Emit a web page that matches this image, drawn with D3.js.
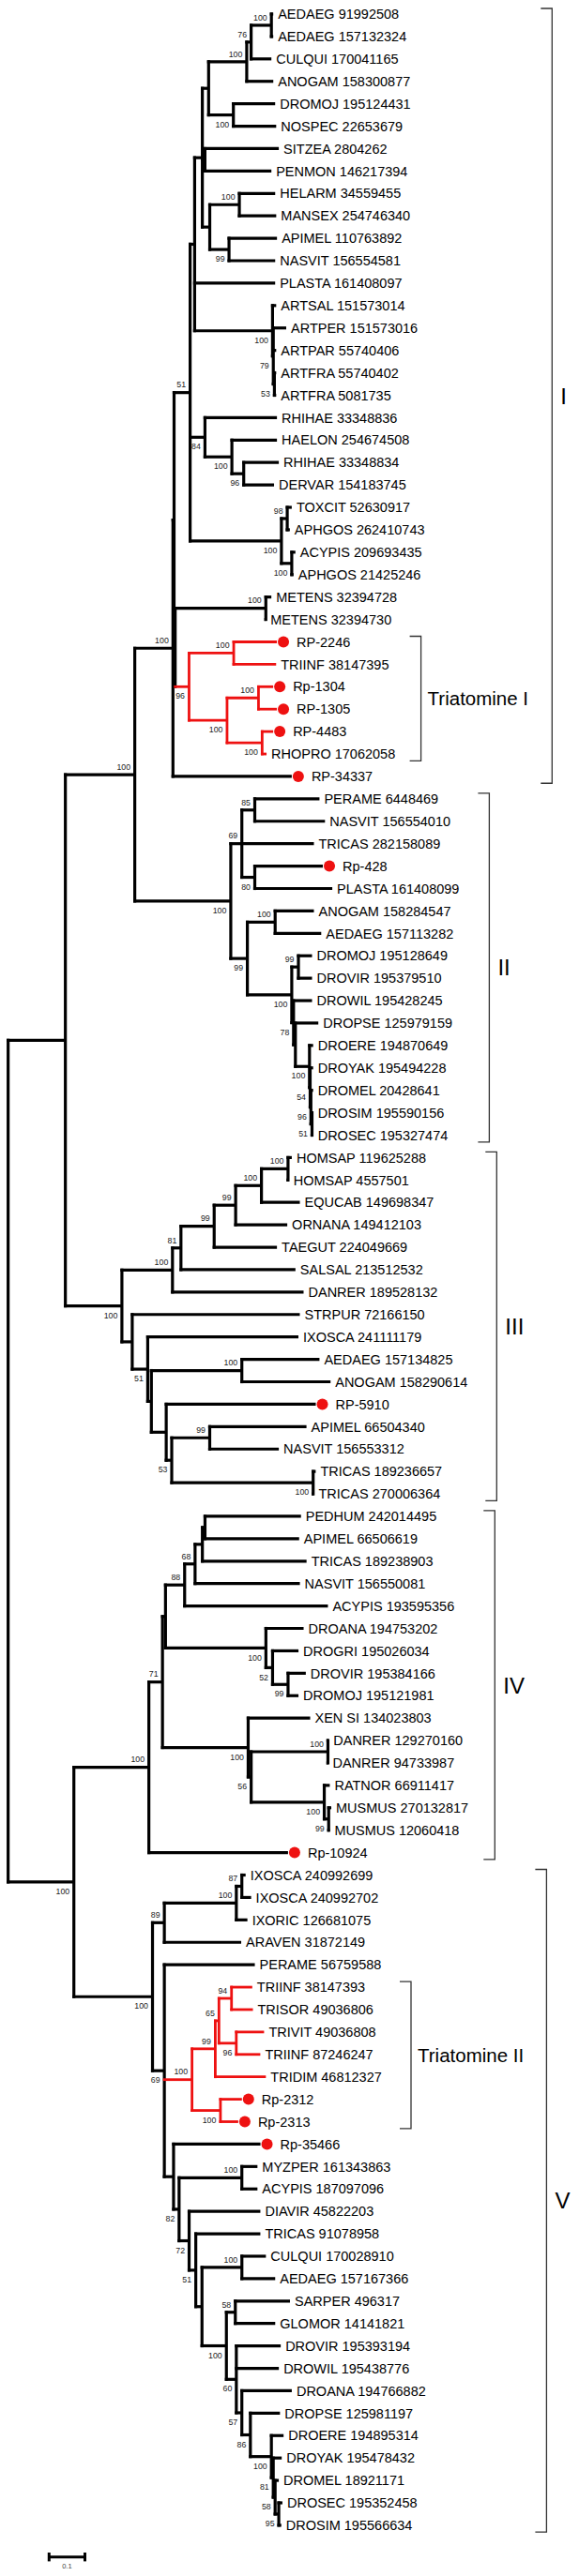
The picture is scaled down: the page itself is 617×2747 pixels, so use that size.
<!DOCTYPE html>
<html><head><meta charset="utf-8">
<script src="https://cdn.jsdelivr.net/npm/d3@7"></script>
<style>body{margin:0;background:#fff}svg{display:block}</style>
</head><body><svg id="c" width="617" height="2747"></svg>
<script>
// ---------------- DATA (Newick fragments, branch lengths in substitutions/site; "b" = support shown below branch) ----
// Clade I
const I_A  = "(AEDAEG_91992508:0.0052,AEDAEG_157132324:0.0052)100:0.0565";
const I_B  = `(${I_A},CULQUI_170041165:0.0565)76:0.0123`;
const I_C  = `(${I_B},ANOGAM_158300877:0.0741)100:0.1063`;
const I_E  = "(DROMOJ_195124431:0.1165,NOSPEC_22653679:0.1194)100b:0.0691";
const I_D  = `(${I_C},${I_E}):0.0175`;
const I_M  = "(SITZEA_2804262:0.2060,PENMON_146217394:0.1853):0.0073";
const I_Hn = "(HELARM_34559455:0.1000,MANSEX_254746340:0.1029)100:0.0825";
const I_F  = "(APIMEL_110763892:0.1338,NASVIT_156554581:0.1288)99b:0.0537";
const I_G  = `(${I_Hn},${I_F}):0.0207`;
const I_N  = `(${I_D},${I_M},${I_G}):0.0215`;
const I_P4 = "(ARTFRA_55740402:0.0050,ARTFRA_5081735:0.0050)53b:0.0031";
const I_P2 = `(ARTPER_151573016:0.0361,ARTPAR_55740406:0.0081,${I_P4})79b:0.0021`;
const I_P  = `(ARTSAL_151573014:0.0102,${I_P2})100b:0.2173`;
const I_O  = `(${I_N},PLASTA_161408097:0.2246,${I_P}):0.0126`;
const I_J  = "(RHIHAE_33348834:0.0979,DERVAR_154183745:0.0846)96b:0.0330";
const I_I  = `(HAELON_254674508:0.1257,${I_J})100b:0.0751`;
const I_H  = `(RHIHAE_33348836:0.2008,${I_I})84b:0.0414`;
const I_U  = "(TOXCIT_52630917:0.0126,APHGOS_262410743:0.0073)98:0.0162";
const I_V  = "(ACYPIS_209693435:0.0102,APHGOS_21425246:0.0050)100b:0.0288";
const I_T  = `(${I_U},${I_V})100b:0.2547`;
const I_S  = `(${I_O},${I_H},${I_T})51:0.0448`;
const I_MET= "(METENS_32394728:0.0154,METENS_32394730:0.0000)100:0.2529";
const I_Y  = "(RP-2246:0.1204,TRIINF_38147395:0.1183)100:0.1246";
const I_Z1 = "(Rp-1304:0.0411,RP-1305:0.0513)100:0.0877";
const I_Z2 = "(RP-4483:0.0309,RHOPRO_17062058:0.0123)100b:0.0979";
const I_Z  = `(${I_Z1},${I_Z2})100b:0.1060`;
const I_X  = `(${I_Y},${I_Z})96b:0.0387`;
const I_W3 = `(${I_MET},${I_X}):0.0031`;
const I_W2 = `(${I_S},${I_W3}):0.0031`;
const cladeI = `(${I_W2},RP-34337:0.3314)100:0.1065`;

// Clade II
const II_DD = "(PERAME_6448469:0.1804,NASVIT_156554010:0.1958)85:0.0361";
const II_EE = "(Rp-428:0.1898,PLASTA_161408099:0.2162)80b:0.0361";
const II_CC = `(${II_DD},TRICAS_282158089:0.2010,${II_EE})69:0.0309`;
const II_GG = "(ANOGAM_158284547:0.1081,AEDAEG_157113282:0.1285)100:0.0775";
const II_II = "(DROMOJ_195128649:0.0380,DROVIR_195379510:0.0380)99:0.0186";
const II_N3 = "(DROSIM_195590156:0.0031,DROSEC_195327474:0.0031)51b:0.0031";
const II_N2 = `(DROMEL_20428641:0.0063,${II_N3})96b:0.0021`;
const II_N1 = `(DROYAK_195494228:0.0084,${II_N2})54b:0.0018`;
const II_KK = `(DROERE_194870649:0.0102,${II_N1})100b:0.0393`;
const II_RR = `(DROPSE_125979159:0.0639,${II_KK}):0.0052`;
const II_QQ = `(DROWIL_195428245:0.0516,${II_RR})78b:0.0050`;
const II_HH = `(${II_II},${II_QQ})100b:0.1238`;
const II_FF = `(${II_GG},${II_HH})99b:0.0463`;
const cladeII = `(${II_CC},${II_FF})100b:0.2678`;

// Clade III
const III_a = "(HOMSAP_119625288:0.0105,HOMSAP_4557501:0.0021)100:0.0741";
const III_b = `(${III_a},EQUCAB_149698347:0.1071)100:0.0720`;
const III_c = `(${III_b},ORNANA_149412103:0.1440)99:0.0599`;
const III_d = `(${III_c},TAEGUT_224049669:0.1751)99:0.0927`;
const III_e = `(${III_d},SALSAL_213512532:0.3194)81:0.0236`;
const III_f = `(${III_e},DANRER_189528132:0.3657)100:0.1411`;
const III_aed = "(AEDAEG_157134825:0.2165,ANOGAM_158290614:0.2474)100:0.2524";
const III_l = "(APIMEL_66504340:0.2699,NASVIT_156553312:0.1927)99:0.1060";
const III_m = "(TRICAS_189236657:0.0071,TRICAS_270006364:0.0021)100b:0.3945";
const III_k = `(${III_l},${III_m})53b:0.0154`;
const III_j = `(RP-5910:0.4173,${III_k}):0.0414`;
const III_i = `(${III_aed},${III_j}):0.0102`;
const III_h = `(IXOSCA_241111179:0.4204,${III_i})51b:0.0432`;
const III_g = `(STRPUR_72166150:0.4675,${III_h}):0.0288`;
const cladeIII = `(${III_f},${III_g})100b:0.1577`;

// Clade IV
const IV_n1 = "(PEDHUM_242014495:0.2678,APIMEL_66506619:0.2626):0.0073";
const IV_n2 = `(${IV_n1},TRICAS_189238903:0.2906):0.0204`;
const IV_n3 = `(${IV_n2},NASVIT_156550081:0.2924)68:0.0291`;
const IV_n4 = `(${IV_n3},ACYPIS_193595356:0.3997)88:0.0534`;
const IV_n8 = "(DROVIR_195384166:0.0495,DROMOJ_195121981:0.0291)99b:0.0432";
const IV_n7 = `(DROGRI_195026034:0.0723,${IV_n8})52b:0.0186`;
const IV_n6 = `(DROANA_194753202:0.1052,${IV_n7})100b:0.2801`;
const IV_n5 = `(${IV_n4},${IV_n6}):0.0084`;
const IV_g  = "(DANRER_129270160:0.0021,DANRER_94733987:0.0000)100:0.2141";
const IV_i  = "(MUSMUS_270132817:0.0073,MUSMUS_12060418:0.0031)99b:0.0123";
const IV_h  = `(RATNOR_66911417:0.0154,${IV_i})100b:0.2039`;
const IV_f  = `(${IV_g},${IV_h})56b:0.0084`;
const IV_e  = `(XEN_SI_134023803:0.1730,${IV_f})100b:0.2390`;
const IV_a  = `(${IV_n5},${IV_e})71:0.0380`;
const cladeIV = `(${IV_a},Rp-10924:0.3882)100:0.2092`;

// Clade V
const V_d  = "(IXOSCA_240992699:0.0105,IXOSCA_240992702:0.0259)87:0.0154";
const V_c  = `(${V_d},IXORIC_126681075:0.0309)100:0.2008`;
const V_a  = `(${V_c},ARAVEN_31872149:0.2144)89:0.0330`;
const V_j  = "(TRIINF_38147393:0.0579,TRISOR_49036806:0.0597)94:0.0351";
const V_k  = "(TRIVIT_49036808:0.0775,TRIINF_87246247:0.0670)96b:0.0484";
const V_i  = `(${V_j},${V_k})65:0.0102`;
const V_g  = `(${V_i},TRIDIM_46812327:0.1411)99:0.0649`;
const V_h  = "(Rp-2312:0.0599,Rp-2313:0.0497)100b:0.0793";
const V_e  = `(${V_g},${V_h})100:0.0772`;
const V_m  = "(MYZPER_161343863:0.0435,ACYPIS_187097096:0.0435)100:0.1751";
const V_cq = "(CULQUI_170028910:0.0670,AEDAEG_157167366:0.0929)100:0.1113";
const V_sr = "(SARPER_496317:0.1524,GLOMOR_14141821:0.1113)58:0.0249";
const V_d8 = "(DROSEC_195352458:0.0102,DROSIM_195566634:0.0071)95b:0.0102";
const V_d7 = `(DROMEL_18921171:0.0102,${V_d8})58b:0.0052`;
const V_d6 = `(DROYAK_195478432:0.0236,${V_d7})81b:0.0052`;
const V_d5 = `(DROERE_194895314:0.0340,${V_d6})100b:0.0586`;
const V_d4 = `(DROPSE_125981197:0.0825,${V_d5})86b:0.0238`;
const V_d3 = `(DROANA_194766882:0.1393,${V_d4})57b:0.0154`;
const V_d2 = `(DROVIR_195393194:0.1238,DROWIL_195438776:0.1186,${V_d3})60b:0.0277`;
const V_d1 = `(${V_sr},${V_d2})100b:0.0681`;
const V_p  = `(${V_cq},${V_d1}):0.0173`;
const V_o  = `(TRICAS_91078958:0.1801,${V_p})51b:0.0186`;
const V_n  = `(DIAVIR_45822203:0.1987,${V_o})72b:0.0280`;
const V_l  = `(${V_m},${V_n})82b:0.0154`;
const V_f  = `(Rp-35466:0.2424,${V_l}):0.0257`;
const V_b  = `(PERAME_56759588:0.2524,${V_e},${V_f})69b:0.0330`;
const cladeV = `(${V_a},${V_b})100b:0.2194`;

const treeNewick = `(((${cladeI},${cladeII})100:0.1936,${cladeIII}):0.1597,(${cladeIV},${cladeV})100b:0.1834);`;

// highlighted (Triatomine) clades: defined by their first and last leaf
const redClades = [["RP-2246","RHOPRO 17062058"],["TRIINF 38147393","Rp-2313"]];
// group brackets
const bracketLabels = ["I","Triatomine I","II","III","IV","V","Triatomine II"];
const bracketFirst  = ["AEDAEG 91992508","RP-2246","PERAME 6448469","HOMSAP 119625288","PEDHUM 242014495","IXOSCA 240992699","TRIINF 38147393"];
const bracketLast   = ["RP-34337","RHOPRO 17062058","DROSEC 195327474","TRICAS 270006364","Rp-10924","DROSIM 195566634","Rp-2313"];
const scaleBarValue = 0.1;

// ---------------- LAYOUT / STYLE ----------------
const W = 617, H = 2747;
const rootX = 8.66, unitPx = 382;
const firstLeafY = 15, lastLeafY = 2692.9;
const bracketX = {"I":588.3,"Triatomine I":448.6,"II":521.4,"III":529.3,"IV":527.3,"V":582.4,"Triatomine II":438};
const RED = "#ee1111";
const FONT = "'Liberation Sans', Arial, Helvetica, sans-serif";

function parseNewick(s){
  let i = 0;
  function node(){
    const n = {};
    const kids = [];
    if (s[i] === "("){
      i++; kids.push(node());
      while (s[i] === ","){ i++; kids.push(node()); }
      i++; // ')'
    }
    let name = "";
    while (i < s.length && !":,();".includes(s[i])) name += s[i++];
    let len = 0;
    if (s[i] === ":"){ i++; let num = ""; while (i < s.length && !",();".includes(s[i])) num += s[i++]; len = +num; }
    n.length = len;
    if (kids.length){
      n.children = kids;
      n.below = /b$/.test(name);
      n.support = name.replace(/b$/,"");
    } else {
      n.name = name.replace(/_/g," ");
    }
    return n;
  }
  return node();
}

const svg = d3.select("#c");
svg.append("rect").attr("width",W).attr("height",H).attr("fill","#fff");

const root = d3.hierarchy(parseNewick(treeNewick));
const x = d3.scaleLinear().domain([0,1]).range([rootX, rootX+unitPx]);
let nLeaves = 0;
root.eachBefore(n => {
  n.len = n.parent ? n.parent.len + n.data.length : 0;
  n.px = x(n.len);
  if (!n.children) n.leafIndex = nLeaves++;
});
const y = d3.scaleLinear().domain([0, nLeaves-1]).range([firstLeafY, lastLeafY]);
root.eachAfter(n => {
  n.py = n.children ? (n.children[0].py + n.children[n.children.length-1].py)/2 : y(n.leafIndex);
});
const leafByName = new Map(root.leaves().map(l => [l.data.name, l]));
redClades.forEach(([a,b]) => {
  const p = leafByName.get(a).path(leafByName.get(b));
  const lca = p.reduce((m,n) => n.depth < m.depth ? n : m);
  lca.each(n => { n.red = true; });
});

const nodes = root.descendants();
const swB = 3.2, swR = 2.8;
const gLines = svg.append("g");
function drawLines(red){
  const sw = red ? swR : swB;
  const col = red ? RED : "#000";
  nodes.filter(n => !!n.red === red).forEach(n => {
    if (n.parent){
      gLines.append("line").attr("x1", n.parent.px - sw/2).attr("x2", n.px).attr("y1", n.py).attr("y2", n.py)
        .attr("stroke", col).attr("stroke-width", sw);
    }
    if (n.children){
      const c0 = n.children[0], c1 = n.children[n.children.length-1];
      gLines.append("line").attr("x1", n.px).attr("x2", n.px).attr("y1", c0.py - sw/2).attr("y2", c1.py + sw/2)
        .attr("stroke", col).attr("stroke-width", sw);
    }
  });
}
drawLines(false);
drawLines(true);

// support values
svg.append("g").selectAll("text").data(nodes.filter(n => n.children && n.data.support))
  .join("text")
  .attr("x", d => d.px - 4.5)
  .attr("y", d => d.data.below ? d.py + 13.2 : d.py - 5.2)
  .attr("text-anchor","end")
  .attr("font-family", FONT).attr("font-size", 8.8).attr("fill","#222")
  .text(d => d.data.support);

// leaves
const leaves = root.leaves();
const isSample = d => /^R[Pp]-/.test(d.data.name);
svg.append("g").selectAll("circle").data(leaves.filter(isSample)).join("circle")
  .attr("cx", d => d.px + 7).attr("cy", d => d.py).attr("r", 6).attr("fill", RED);
svg.append("g").selectAll("text").data(leaves).join("text")
  .attr("x", d => d.px + (isSample(d) ? 21 : 5))
  .attr("y", d => d.py + 5.2)
  .attr("font-family", FONT).attr("font-size", 14.5).attr("fill","#000")
  .text(d => d.data.name);

// brackets
const gB = svg.append("g");
bracketLabels.forEach((lab, i) => {
  const y1 = leafByName.get(bracketFirst[i]).py - 6;
  const y2 = leafByName.get(bracketLast[i]).py + 7.3;
  const bx = bracketX[lab];
  const tri = lab.startsWith("Triatomine");
  gB.append("path").attr("d", `M${bx-12},${y1}H${bx}V${y2}H${bx-12}`)
    .attr("fill","none").attr("stroke","#333").attr("stroke-width",1.3);
  const fs = tri ? 20.5 : 24;
  gB.append("text").attr("x", bx + (tri ? 7 : 9)).attr("y", (y1+y2)/2 + fs*0.716/2)
    .attr("font-family", FONT).attr("font-size", fs).attr("fill","#000").text(lab);
});

// scale bar
const sbLeft = 52.3, sbY = 2726.7;
const sbLen = x(scaleBarValue) - x(0);
const gS = svg.append("g").attr("stroke","#000").attr("stroke-width",3);
gS.append("line").attr("x1", sbLeft).attr("x2", sbLeft + sbLen).attr("y1", sbY).attr("y2", sbY);
gS.append("line").attr("x1", sbLeft).attr("x2", sbLeft).attr("y1", sbY-4.7).attr("y2", sbY+4.7);
gS.append("line").attr("x1", sbLeft+sbLen).attr("x2", sbLeft+sbLen).attr("y1", sbY-4.7).attr("y2", sbY+4.7);
svg.append("text").attr("x", sbLeft + sbLen/2).attr("y", sbY + 12).attr("text-anchor","middle")
  .attr("font-family", FONT).attr("font-size", 7.5).attr("fill","#444").text(String(scaleBarValue));
</script>
</body></html>
